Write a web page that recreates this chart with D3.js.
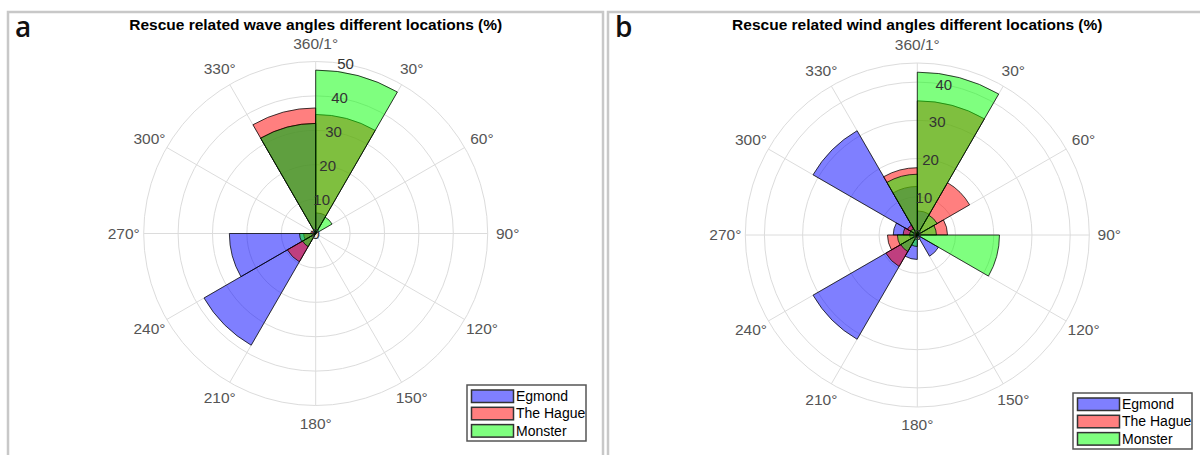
<!DOCTYPE html>
<html><head><meta charset="utf-8">
<script src="https://cdn.jsdelivr.net/npm/d3@7"></script>
<style>body{margin:0;background:#fff;} svg{display:block;}</style>
</head><body>
<svg id="chart" width="1200" height="455"></svg>
<script>
// ---- data ----
const binStarts = [0, 30, 60, 90, 120, 150, 180, 210, 240, 270, 300, 330];
const angleLabels = ["360/1°", "30°", "60°", "90°", "120°", "150°", "180°", "210°", "240°", "270°", "300°", "330°"];
const seriesNames = ["Egmond", "The Hague", "Monster"];
const seriesColors = ["#0000ff", "#ff0000", "#00ff00"];

const waveTitle = "Rescue related wave angles different locations (%)";
const waveEgmond  = [6, 0, 0, 0, 0, 0, 0, 37.5, 25.1, 0, 0, 32];
const waveHague   = [34.6, 0, 0, 0, 0, 0, 0, 9.5, 3.5, 1.4, 0, 36.5];
const waveMonster = [47.5, 5.5, 0, 0, 0, 0, 0, 4.4, 4.7, 0, 0, 32];
const waveTicks = [10, 20, 30, 40, 50];
const waveMax = 50;

const windTitle = "Rescue related wind angles different locations (%)";
const windEgmond  = [6.3, 0, 0, 0, 6.4, 0, 6.4, 31.5, 2, 6.3, 31.5, 12.7];
const windHague   = [35.1, 15.8, 7.9, 0, 0, 0, 0, 9.5, 7.8, 3.7, 3, 17.6];
const windMonster = [42.6, 6, 5, 21.5, 0, 0, 3, 5, 5.2, 2, 2, 15.9];
const windTicks = [10, 20, 30, 40];
const windMax = 45;

// ---- drawing ----
const svg = d3.select("#chart");
const R = 172;
const rad = d => d * Math.PI / 180;

function panel(opt) {
  // frame
  svg.append("rect").attr("x", opt.fx).attr("y", 12).attr("width", opt.fw).attr("height", 460)
    .attr("fill", "none").attr("stroke", "#c8c8c8").attr("stroke-width", 2.5);
  svg.append("text").attr("x", opt.fx + 7).attr("y", 37)
    .attr("font-family", "Open Sans, sans-serif").attr("font-size", 28).attr("font-weight", 600).attr("fill", "#111")
    .text(opt.letter);
  svg.append("text").attr("x", opt.cx).attr("y", 30).attr("text-anchor", "middle")
    .attr("font-family", "Liberation Sans, Arial, sans-serif").attr("font-weight", "bold")
    .attr("font-size", 15.5).attr("fill", "#000").text(opt.title);

  const g = svg.append("g").attr("transform", `translate(${opt.cx},${opt.cy})`);
  const r = d3.scaleLinear().domain([0, opt.max]).range([0, R]);

  // grid circles
  const rings = opt.ticks.concat(opt.ticks.includes(opt.max) ? [] : [opt.max]);
  g.selectAll("circle.grid").data(rings).join("circle")
    .attr("r", d => r(d)).attr("fill", "none").attr("stroke", "#dcdcdc").attr("stroke-width", 1);
  // spokes
  g.selectAll("line.spoke").data(binStarts).join("line")
    .attr("x1", 0).attr("y1", 0)
    .attr("x2", d => Math.sin(rad(d)) * R).attr("y2", d => -Math.cos(rad(d)) * R)
    .attr("stroke", "#dcdcdc").attr("stroke-width", 1);

  // bars
  const arc = d3.arc().innerRadius(0);
  opt.series.forEach((vals, si) => {
    g.append("g").selectAll("path").data(vals.map((v, i) => ({v, a: binStarts[i]})).filter(d => d.v > 0))
      .join("path")
      .attr("d", d => arc({outerRadius: r(d.v), startAngle: rad(d.a), endAngle: rad(d.a + 30)}))
      .attr("fill", seriesColors[si]).attr("fill-opacity", 0.5)
      .attr("stroke", "#000").attr("stroke-opacity", 0.75).attr("stroke-width", 1);
  });

  // angle labels
  g.selectAll("text.ang").data(binStarts).join("text")
    .attr("x", d => Math.sin(rad(d)) * 192).attr("y", d => -Math.cos(rad(d)) * 190)
    .attr("dy", "0.35em").attr("text-anchor", "middle")
    .attr("font-family", "Liberation Sans, Arial, sans-serif").attr("font-size", 15.5).attr("fill", "#555")
    .text((d, i) => angleLabels[i]);

  // radial tick labels
  g.selectAll("text.tick").data([0].concat(opt.ticks)).join("text")
    .attr("x", d => Math.sin(rad(10)) * r(d)).attr("y", d => -Math.cos(rad(10)) * r(d))
    .attr("dy", "0.35em").attr("text-anchor", "middle")
    .attr("font-family", "Liberation Sans, Arial, sans-serif").attr("font-size", 15).attr("fill", "#333")
    .text(d => d);

  // legend
  const lg = svg.append("g").attr("transform", `translate(${opt.lx},${opt.ly})`);
  lg.append("rect").attr("width", 119).attr("height", 56).attr("fill", "#fff")
    .attr("stroke", "#555").attr("stroke-width", 1.5);
  seriesNames.forEach((n, i) => {
    lg.append("rect").attr("x", 4.5).attr("y", 5 + i * 17.3).attr("width", 42).attr("height", 12.5)
      .attr("fill", seriesColors[i]).attr("fill-opacity", 0.5).attr("stroke", "#333").attr("stroke-width", 1.5);
    lg.append("text").attr("x", 49).attr("y", 16 + i * 17.3)
      .attr("font-family", "Liberation Sans, Arial, sans-serif").attr("font-size", 14).attr("fill", "#000")
      .text(n);
  });
}

panel({fx: 8, fw: 595, letter: "a", title: waveTitle, cx: 315.7, cy: 233.5, max: waveMax, ticks: waveTicks,
  series: [waveEgmond, waveHague, waveMonster], lx: 467, ly: 385});
panel({fx: 608, fw: 600, letter: "b", title: windTitle, cx: 917.3, cy: 235, max: windMax, ticks: windTicks,
  series: [windEgmond, windHague, windMonster], lx: 1073, ly: 393});
</script>
</body></html>
